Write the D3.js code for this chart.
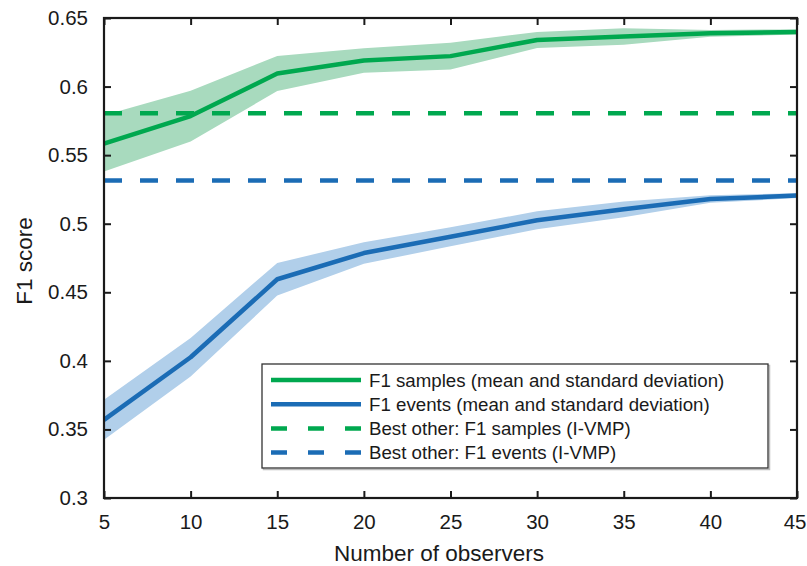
<!DOCTYPE html>
<html>
<head>
<meta charset="utf-8">
<script src="https://cdn.jsdelivr.net/npm/d3@7"></script>
<style>
  body { margin: 0; background: #fff; }
  text { font-family: "Liberation Sans", Arial, Helvetica, sans-serif; fill: #1a1a1a; }
</style>
</head>
<body>
<svg id="chart"></svg>
<script>
const observers = [5, 10, 15, 20, 25, 30, 35, 40, 45]
const samplesMean = [0.5585, 0.5785, 0.6095, 0.619, 0.6222, 0.634, 0.6365, 0.6388, 0.6398]
const samplesStd = [0.0205, 0.0185, 0.0128, 0.009, 0.0098, 0.0058, 0.006, 0.0025, 0.0019]
const eventsMean = [0.357, 0.4026, 0.4595, 0.4786, 0.4905, 0.5025, 0.5105, 0.518, 0.5205]
const eventsStd = [0.0146, 0.014, 0.0119, 0.0078, 0.007, 0.0065, 0.0057, 0.0028, 0.0018]
const bestSamples = 0.5805
const bestEvents = 0.5315
const xTicks = [5, 10, 15, 20, 25, 30, 35, 40, 45]
const yTicks = [0.3, 0.35, 0.4, 0.45, 0.5, 0.55, 0.6, 0.65]
const legendLabels = [
  "F1 samples (mean and standard deviation)",
  "F1 events (mean and standard deviation)",
  "Best other: F1 samples (I-VMP)",
  "Best other: F1 events (I-VMP)"
]

const width = 807
const height = 566
const margin = {top: 18, right: 10, bottom: 68, left: 104}
const green = "#00a84f"
const blue = "#1b6cb5"
const axisColor = "#1a1a1a"

const svg = d3.select("#chart")
    .attr("width", width)
    .attr("height", height)

const x = d3.scaleLinear().domain([5, 45]).range([margin.left, width - margin.right])
const y = d3.scaleLinear().domain([0.3, 0.65]).range([height - margin.bottom, margin.top])

svg.append("clipPath").attr("id", "plot")
  .append("rect")
    .attr("x", x(5)).attr("y", y(0.65))
    .attr("width", x(45) - x(5)).attr("height", y(0.3) - y(0.65))

const plot = svg.append("g").attr("clip-path", "url(#plot)")

const series = [
  {mean: samplesMean, std: samplesStd, color: green, band: "#a8dabe"},
  {mean: eventsMean, std: eventsStd, color: blue, band: "#b1cfea"}
]

const area = d3.area()
    .x(d => x(d.x))
    .y0(d => y(d.m - d.s))
    .y1(d => y(d.m + d.s))
const line = d3.line()
    .x(d => x(d.x))
    .y(d => y(d.m))

series.forEach(s => {
  const pts = observers.map((o, i) => ({x: o, m: s.mean[i], s: s.std[i]}))
  plot.append("path")
    .attr("d", area(pts))
    .attr("fill", s.band)
  plot.append("path")
    .attr("d", line(pts))
    .attr("fill", "none")
    .attr("stroke", s.color)
    .attr("stroke-width", 4.5)
    .attr("stroke-linejoin", "round")
})

// best other, dashed
;[[bestSamples, green], [bestEvents, blue]].forEach(([v, c]) => {
  plot.append("line")
    .attr("x1", x(5)).attr("x2", x(45))
    .attr("y1", y(v)).attr("y2", y(v))
    .attr("stroke", c)
    .attr("stroke-width", 4.5)
    .attr("stroke-dasharray", "18,18")
})

// axes, ticks inside on all sides
const tickLen = 7
const axes = svg.append("g")
const xAxis = axes.append("g")
    .attr("transform", `translate(0,${y(0.3)})`)
    .call(d3.axisBottom(x).tickValues(xTicks).tickSizeInner(-tickLen).tickSizeOuter(0).tickPadding(16))
axes.append("g")
    .attr("transform", `translate(0,${y(0.65)})`)
    .call(d3.axisTop(x).tickValues(xTicks).tickSizeInner(-tickLen).tickSizeOuter(0).tickFormat(""))
axes.append("g")
    .attr("transform", `translate(${x(5)},0)`)
    .call(d3.axisLeft(y).tickValues(yTicks).tickSizeInner(-tickLen).tickSizeOuter(0).tickPadding(16).tickFormat(d3.format("~g")))
axes.append("g")
    .attr("transform", `translate(${x(45)},0)`)
    .call(d3.axisRight(y).tickValues(yTicks).tickSizeInner(-tickLen).tickSizeOuter(0).tickFormat(""))

axes.selectAll(".domain").remove()
axes.selectAll(".tick line").attr("stroke", axisColor).attr("stroke-width", 2)
axes.selectAll(".tick text").attr("font-size", 20.5).attr("fill", axisColor)
// last label sits on the window edge, keep it inside
xAxis.selectAll(".tick text").filter(d => d === 45)
    .attr("text-anchor", "end").attr("x", 9)

axes.append("rect")
    .attr("x", x(5)).attr("y", y(0.65))
    .attr("width", x(45) - x(5)).attr("height", y(0.3) - y(0.65))
    .attr("fill", "none")
    .attr("stroke", axisColor)
    .attr("stroke-width", 2.2)

svg.append("text")
    .attr("x", 439)
    .attr("y", 561)
    .attr("text-anchor", "middle")
    .attr("font-size", 22.5)
    .text("Number of observers")

svg.append("text")
    .attr("transform", "translate(32,261) rotate(-90)")
    .attr("text-anchor", "middle")
    .attr("font-size", 22.5)
    .text("F1 score")

// legend
const lg = svg.append("g").attr("transform", "translate(262,364)")
lg.append("rect")
    .attr("x", 1.5).attr("y", 1.5).attr("width", 506).attr("height", 104)
    .attr("fill", "none").attr("stroke", "#bbb").attr("stroke-width", 1.5)
lg.append("rect")
    .attr("width", 506).attr("height", 104)
    .attr("fill", "#fff").attr("stroke", "#333").attr("stroke-width", 1.3)

const legendItems = legendLabels.map((t, i) => ({
  text: t,
  color: i % 2 === 0 ? green : blue,
  dashed: i >= 2
}))

const rows = lg.selectAll("g.item")
  .data(legendItems)
  .join("g")
    .attr("class", "item")
    .attr("transform", (d, i) => `translate(0,${16 + i * 24.2})`)

rows.append("line")
    .attr("x1", 9).attr("x2", 99)
    .attr("stroke", d => d.color)
    .attr("stroke-width", 4.5)
    .attr("stroke-dasharray", d => d.dashed ? "16,21" : null)

rows.append("text")
    .attr("x", 107)
    .attr("dy", "0.35em")
    .attr("font-size", 18.7)
    .text(d => d.text)
</script>
</body>
</html>
